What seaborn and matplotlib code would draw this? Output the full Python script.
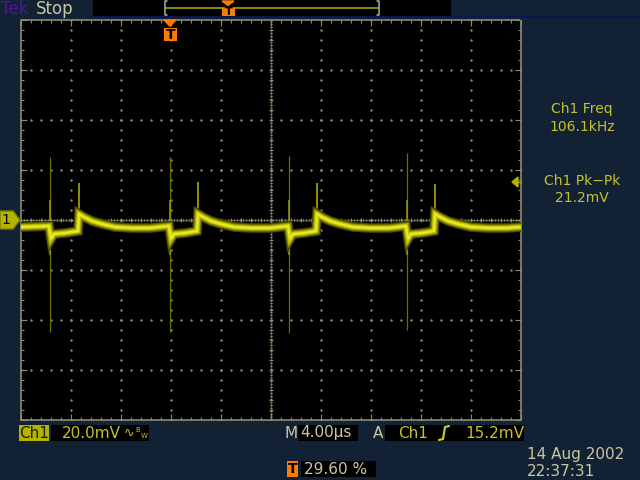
import matplotlib
matplotlib.use('Agg')
import matplotlib.pyplot as plt
from matplotlib.patches import Rectangle, Polygon
from matplotlib.lines import Line2D
import seaborn as sns
import numpy as np
import pandas as pd

# Ch1 trace: time in us (0 = trigger), voltage in mV
trace_t = [-11.84, -9.6, -9.44, -9.2, -8.32, -7.28, -7.2, -6.8, -6.16, -5.36, -4.32, -2.96, -1.52, 0.0,
           0.16, 0.4, 1.28, 2.24, 2.32, 2.72, 3.36, 4.16, 5.2, 6.56, 8.08, 9.52,
           9.68, 9.92, 10.8, 11.76, 11.84, 12.24, 12.88, 13.68, 14.72, 16.08, 17.6, 18.96,
           19.12, 19.36, 20.24, 21.2, 21.28, 21.68, 22.32, 23.12, 24.16, 25.52, 27.04, 28.16]
trace_mv = [-2.8, -2.4, -7.6, -5.6, -5.2, -4.4, 2.4, 1.2, -0.4, -1.6, -2.8, -3.2, -3.2, -2.4,
            -7.6, -5.6, -5.2, -4.4, 2.4, 1.2, -0.4, -1.6, -2.8, -3.2, -3.2, -2.4,
            -7.6, -5.6, -5.2, -4.4, 2.4, 1.2, -0.4, -1.6, -2.8, -3.2, -3.2, -2.4,
            -7.6, -5.6, -5.2, -4.4, 2.4, 1.2, -0.4, -1.6, -2.8, -3.2, -3.2, -2.8]

# switching spikes (thin, dim) and the small spikes at the step edge
spike_t = [-9.52, 0.12, 9.6, 19.04]
spike_top = [25.2, 25.2, 25.6, 26.8]
spike_bottom = [-44.8, -44.8, -45.2, -44.0]
step_t = [-7.2, 2.32, 11.84, 21.28]
step_top = [14.8, 15.2, 14.8, 14.4]

# screen settings
t_div = 4.0     # us/div
v_div = 20.0    # mV/div
t_left = -11.84
trig_level = 15.2

bg = '#122234'
khaki = '#c8c8a0'
yel = '#c4c428'
orange = '#ff7a00'

sns.set_theme(style='dark')
plt.rcParams['font.family'] = ['DejaVu Sans']

fig = plt.figure(figsize=(6.4, 4.8), dpi=100, facecolor=bg)
W, H = 640, 480


def fx(x):
    return x / W


def fy(y):
    return 1 - y / H


def box(x0, y0, x1, y1, color, z=1):
    fig.add_artist(Rectangle((fx(x0), fy(y1)), (x1 - x0) / W, (y1 - y0) / H,
                             transform=fig.transFigure, facecolor=color, edgecolor='none', zorder=z))


def txt(x, y, s, color=yel, size=10, ha='left', **kw):
    fig.text(fx(x), fy(y), s, color=color, fontsize=size, ha=ha, va='center', **kw)


ax = fig.add_axes([fx(21), fy(420), 500 / W, 400 / H])
ax.set_facecolor('black')
ax.set_xlim(t_left, t_left + 10 * t_div)
ax.set_ylim(-4 * v_div, 4 * v_div)

# graticule dots
gcol = '#8c8c70'
for k in range(1, 10):
    x = t_left + k * t_div
    if k == 5:
        ys = np.arange(-80, 80.1, 1.2)
        ax.plot([x] * len(ys), ys, ls='none', marker='s', ms=0.6, color=gcol, zorder=1)
        ym = np.arange(-76, 76.1, 4)
        ax.plot([x] * len(ym), ym, ls='none', marker='_', ms=3.5, mew=0.8, color=gcol, zorder=1)
    else:
        ys = np.arange(-80, 80.1, 4)
        ax.plot([x] * len(ys), ys, ls='none', marker='s', ms=0.7, color=gcol, zorder=1)
for k in range(1, 8):
    y = -80 + k * v_div
    if k == 4:
        xs = np.arange(t_left, t_left + 40.01, 0.24)
        ax.plot(xs, [y] * len(xs), ls='none', marker='s', ms=0.6, color=gcol, zorder=1)
        xm = np.arange(t_left + 0.8, t_left + 40, 0.8)
        ax.plot(xm, [y] * len(xm), ls='none', marker='|', ms=3.5, mew=0.8, color=gcol, zorder=1)
    else:
        xs = np.arange(t_left, t_left + 40.01, 0.8)
        ax.plot(xs, [y] * len(xs), ls='none', marker='s', ms=0.7, color=gcol, zorder=1)

ax.set_xticks(np.arange(t_left, t_left + 40.01, t_div))
ax.set_xticks(np.arange(t_left, t_left + 40.01, 0.8), minor=True)
ax.set_yticks(np.arange(-80, 80.1, v_div))
ax.set_yticks(np.arange(-80, 80.1, 4), minor=True)
ax.tick_params(which='both', direction='in', color=gcol, top=True, right=True, bottom=True, left=True,
               labelbottom=False, labelleft=False)
ax.tick_params(which='major', length=4, width=0.8)
ax.tick_params(which='minor', length=2.5, width=0.8)
ax.grid(False)
for sp in ax.spines.values():
    sp.set_color(gcol)
    sp.set_linewidth(1.2)
    sp.set_linestyle((0, (1, 1)))

# spikes
ax.vlines(spike_t, spike_bottom, spike_top, color='#6e6e00', lw=0.9, zorder=2)
ax.vlines(spike_t, [-14] * 4, [8] * 4, color='#9a9a00', lw=1.1, zorder=2)
ax.vlines(step_t, [0] * 4, step_top, color='#b8b800', lw=1.1, zorder=2)

# trace band
df = pd.DataFrame({'t': trace_t, 'mv': trace_mv})
for lw, c in [(7, '#404000'), (5.5, '#6c6c00'), (4.2, '#9e9e00'), (3, '#c8c800'), (1.5, '#e8e830')]:
    sns.lineplot(data=df, x='t', y='mv', ax=ax, color=c, lw=lw, sort=False, estimator=None,
                 solid_joinstyle='miter', zorder=3)
ax.set_xlabel('')
ax.set_ylabel('')

# trigger level arrow (right edge)
ty = 220 - trig_level / v_div * 50
fig.add_artist(Polygon([(fx(512), fy(ty)), (fx(518), fy(ty - 5)), (fx(518), fy(ty + 5))],
                       closed=True, transform=fig.transFigure, color='#b4b400', zorder=5))
fig.add_artist(Line2D([fx(518), fx(521)], [fy(ty), fy(ty)], transform=fig.transFigure,
                      color='#b4b400', lw=1, zorder=5))

# Ch1 ground marker
fig.add_artist(Polygon([(fx(0), fy(211)), (fx(13), fy(211)), (fx(20), fy(220)), (fx(13), fy(229)), (fx(0), fy(229))],
                       closed=True, transform=fig.transFigure, facecolor='#b4b400', edgecolor='#808000', zorder=5))
txt(6, 220, '1', color='black', size=10, ha='center', zorder=6)

# top bar
txt(1, 9, 'Tek', color='#4a1a90', size=12, zorder=6)
txt(36, 9, 'Stop', color=khaki, size=12, zorder=6)
box(93, 0, 451, 16, 'black')
fig.add_artist(Line2D([fx(93), fx(640)], [fy(17), fy(17)], transform=fig.transFigure, color='#10105a', lw=1.2))
fig.add_artist(Line2D([fx(165), fx(379)], [fy(8), fy(8)], transform=fig.transFigure, color='#a8a800', lw=1.2, zorder=3))
for bx, d in [(165, 2), (379, -2)]:
    fig.add_artist(Line2D([fx(bx + d), fx(bx), fx(bx), fx(bx + d)], [fy(1), fy(1), fy(15), fy(15)],
                          transform=fig.transFigure, color='#a0a080', lw=1.2, zorder=3))

# trigger position markers (T)
for cx, y0, y1 in [(228, 1, 16), (170, 20, 41)]:
    h = y1 - y0
    tri = 0.3 * h
    fig.add_artist(Polygon([(fx(cx - 6), fy(y0)), (fx(cx + 6), fy(y0)), (fx(cx), fy(y0 + tri))],
                           closed=True, transform=fig.transFigure, color=orange, zorder=5))
    box(cx - 6, y0 + tri + 2, cx + 7, y1, orange, z=5)
    txt(cx + 0.5, (y0 + tri + 2 + y1) / 2 + 0.5, 'T', color='black', size=8 if h < 20 else 10,
        ha='center', fontweight='bold', zorder=6)

# measurements on the right
txt(582, 109, 'Ch1 Freq', color=yel, size=10, ha='center')
txt(582, 127, '106.1kHz', color=yel, size=10, ha='center')
txt(582, 181, 'Ch1 Pk\u2212Pk', color=yel, size=10, ha='center')
txt(582, 198, '21.2mV', color=yel, size=10, ha='center')

# bottom readouts
box(19, 425, 49, 441, '#b4b400')
txt(34, 433, 'Ch1', color='#202000', size=11, ha='center', zorder=6)
box(51, 425, 149, 441, 'black')
txt(62, 433, '20.0mV', color=yel, size=11, zorder=6)
txt(124, 433, '\u223f', color=yel, size=9, zorder=6)
txt(135, 430, 'B', color=yel, size=5, zorder=6)
txt(141, 436, 'W', color=yel, size=5, zorder=6)
txt(285, 433, 'M', color=khaki, size=11, zorder=6)
box(298, 425, 358, 441, 'black')
txt(300, 433, '4.00\u00b5s', color=khaki, size=11, zorder=6)
txt(373, 433, 'A', color=khaki, size=11, zorder=6)
box(385, 425, 524, 441, 'black')
txt(398, 433, 'Ch1', color=yel, size=11, zorder=6)
fig.add_artist(Line2D([fx(439), fx(443), fx(445), fx(449)], [fy(440), fy(439), fy(427), fy(426)],
                      transform=fig.transFigure, color=yel, lw=1.6, zorder=6))
txt(465, 433, '15.2mV', color=yel, size=11, zorder=6)

box(287, 461, 298, 477, orange, z=5)
txt(292.5, 469, 'T', color='black', size=10, ha='center', fontweight='bold', zorder=6)
box(301, 461, 376, 477, 'black')
txt(304, 469, '29.60 %', color=khaki, size=11, zorder=6)

txt(527, 455, '14 Aug 2002', color=khaki, size=11)
txt(527, 472, '22:37:31', color=khaki, size=11)

fig.savefig('out.png', dpi=100, facecolor=bg)
